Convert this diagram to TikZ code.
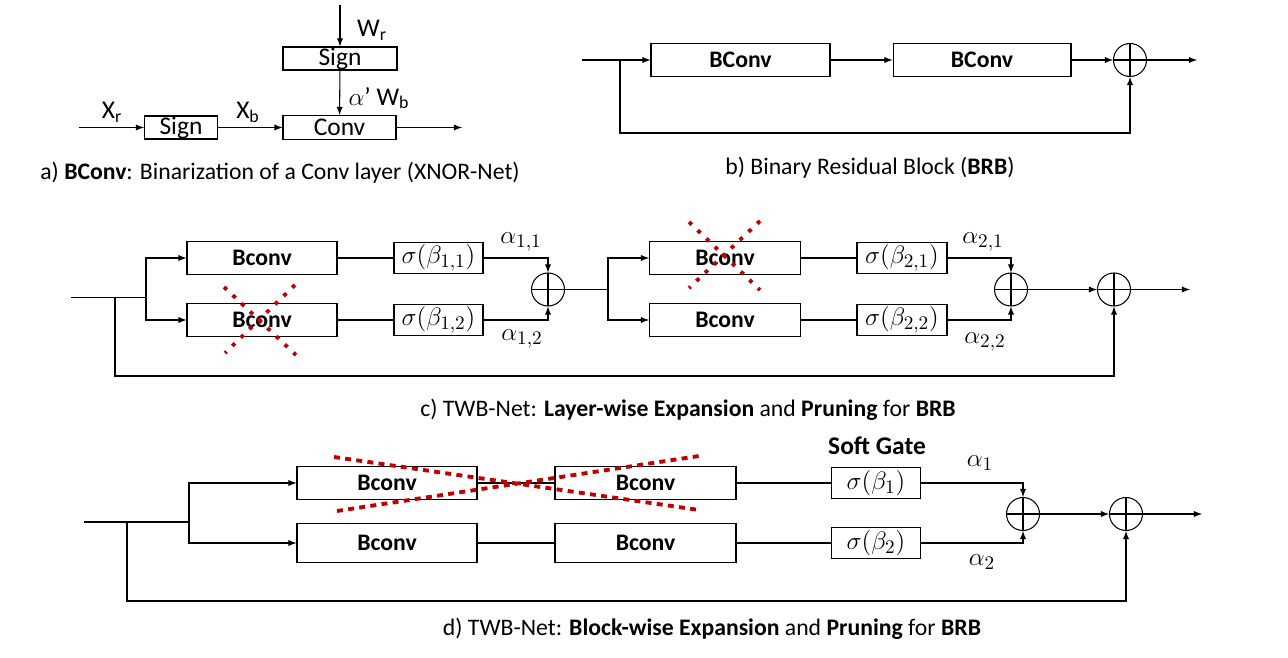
\documentclass[tikz,border=0pt]{standalone}
\usepackage{fontspec}
\setmainfont{Carlito}
\definecolor{cutred}{HTML}{C00000}
\begin{document}
\begin{tikzpicture}[x=0.02cm,y=-0.02cm,line width=0.6pt,
	every node/.style={font=\fontsize{13.5}{15}\selectfont},
	blk/.style={draw,inner sep=0pt,minimum height=0.66cm},
	bold/.style={font=\fontsize{13.5}{15}\selectfont\bfseries},
	gate/.style={draw,inner sep=0pt,minimum width=1.78cm,minimum height=0.62cm,font=\fontsize{15}{17}\selectfont},
	sumnode/.style={draw,circle,inner sep=0pt,minimum size=0.66cm,
		path picture={\draw (path picture bounding box.north)--(path picture bounding box.south)
			(path picture bounding box.west)--(path picture bounding box.east);}},
	alab/.style={font=\fontsize{15}{17}\selectfont},
	prunex/.style={draw=cutred,line width=2.2pt,dash pattern=on 2.2pt off 4.6pt},
	pruneb/.style={draw=cutred,line width=2.2pt,dash pattern=on 3.4pt off 3pt}]
	\useasboundingbox (0,0) rectangle (1288,658);
	% a) BConv
	\node[blk,minimum width=2.28cm,minimum height=0.46cm,font=\fontsize{14.5}{16}\selectfont] (sgnw) at (340,58.5) {Sign};
	\node[blk,minimum width=2.26cm,minimum height=0.48cm,font=\fontsize{14.5}{16}\selectfont] (conv) at (339.5,127.5) {Conv};
	\node[blk,minimum width=1.46cm,minimum height=0.46cm,font=\fontsize{14.5}{16}\selectfont] (sgnx) at (181,127.5) {Sign};
	\coordinate (wtop) at (340,5); \coordinate (xin) at (79,127.5); \coordinate (aout) at (462,127.5);
	\draw[-latex] (wtop) -- (sgnw);
	\draw[-latex] (sgnw) -- (conv);
	\draw[-latex] (xin) -- (sgnx);
	\draw[-latex] (sgnx) -- (conv);
	\draw[-latex] (conv) -- (aout);
	\node[font=\fontsize{14.5}{16}\selectfont] (lwr) at (372,30) {W\textsubscript{r}};
	\node[font=\fontsize{14.5}{16}\selectfont] (lwb) at (379,98) {$\alpha$’ W\textsubscript{b}};
	\node[font=\fontsize{14.5}{16}\selectfont] (lxr) at (112,112) {X\textsubscript{r}};
	\node[font=\fontsize{14.5}{16}\selectfont] (lxb) at (248,112) {X\textsubscript{b}};
	\node (capa) at (280,173) {a) \textbf{BConv}: Binarization of a Conv layer (XNOR-Net)};
	% b) BRB
	\node[blk,bold,minimum width=3.58cm] (bc1) at (740.5,60) {BConv};
	\node[blk,bold,minimum width=3.56cm] (bc2) at (982,60) {BConv};
	\node[sumnode] (sb) at (1130,60) {};
	\coordinate (bin) at (582,60); \coordinate (bsplit) at (620,60);
	\coordinate (bloop) at (620,133); \coordinate (bout) at (1197,60);
	\draw[-latex] (bin) -- (bc1);
	\draw[-latex] (bc1) -- (bc2);
	\draw[-latex] (bc2) -- (sb);
	\draw[-latex] (sb) -- (bout);
	\draw[-latex] (bsplit) -- (bloop) -| (sb);
	\node (capb) at (870,168) {b) Binary Residual Block (\textbf{BRB})};
	% c) layer-wise
	\node[blk,bold,minimum width=3.0cm] (n11) at (262,258) {Bconv};
	\node[blk,bold,minimum width=3.0cm] (n12) at (262,320) {Bconv};
	\node[gate] (g11) at (438.5,258) {$\sigma(\beta_{1,1})$};
	\node[gate] (g12) at (438.5,320) {$\sigma(\beta_{1,2})$};
	\node[sumnode] (s1) at (548,289.5) {};
	\node[blk,bold,minimum width=3.02cm] (n21) at (725,258) {Bconv};
	\node[blk,bold,minimum width=3.02cm] (n22) at (725,320) {Bconv};
	\node[gate,minimum width=1.8cm] (g21) at (902,258) {$\sigma(\beta_{2,1})$};
	\node[gate,minimum width=1.8cm] (g22) at (902,320) {$\sigma(\beta_{2,2})$};
	\node[sumnode] (s2) at (1011,289.5) {};
	\node[sumnode] (s3) at (1114,289.5) {};
	\coordinate (cin) at (71,297.5); \coordinate (cskip) at (115,297.5);
	\coordinate (csplit) at (146,297.5); \coordinate (cloop) at (115,376);
	\coordinate (c2split) at (608,289.5); \coordinate (cout) at (1190,289.5);
	\draw (cin) -- (csplit);
	\draw[-latex] (csplit) |- (n11);
	\draw[-latex] (csplit) |- (n12);
	\draw (n11) -- (g11); \draw (n12) -- (g12);
	\draw[-latex] (g11) -| (s1);
	\draw[-latex] (g12) -| (s1);
	\draw (s1) -- (c2split);
	\draw[-latex] (c2split) |- (n21);
	\draw[-latex] (c2split) |- (n22);
	\draw (n21) -- (g21); \draw (n22) -- (g22);
	\draw[-latex] (g21) -| (s2);
	\draw[-latex] (g22) -| (s2);
	\draw[-latex] (s2) -- (s3);
	\draw[-latex] (s3) -- (cout);
	\draw[-latex] (cskip) -- (cloop) -| (s3);
	\node[alab] (a11) at (521,242) {$\alpha_{1,1}$};
	\node[alab] (a12) at (522,339) {$\alpha_{1,2}$};
	\node[alab] (a21) at (983,242) {$\alpha_{2,1}$};
	\node[alab] (a22) at (985,342) {$\alpha_{2,2}$};
	\draw[prunex] (224,287) -- (296,355) (295,285) -- (225,353);
	\draw[prunex] (689,222) -- (760,290) (760,221) -- (689,288);
	\node (capc) at (688,410) {c) TWB-Net: \textbf{Layer-wise Expansion} and \textbf{Pruning} for \textbf{BRB}};
	% d) block-wise
	\node[blk,bold,minimum width=3.6cm] (m11) at (387,483) {Bconv};
	\node[blk,bold,minimum width=3.62cm] (m12) at (645.5,483) {Bconv};
	\node[blk,bold,minimum width=3.6cm,minimum height=0.78cm] (m21) at (387,543) {Bconv};
	\node[blk,bold,minimum width=3.62cm,minimum height=0.78cm] (m22) at (645.5,543) {Bconv};
	\node[gate] (h1) at (876,483) {$\sigma(\beta_{1})$};
	\node[gate] (h2) at (876,543) {$\sigma(\beta_{2})$};
	\node[font=\fontsize{14.5}{16}\selectfont\bfseries] (soft) at (877,446) {Soft Gate};
	\node[sumnode] (t1) at (1023,514) {};
	\node[sumnode] (t2) at (1126,514) {};
	\coordinate (din) at (84,522); \coordinate (dskip) at (127,522);
	\coordinate (dsplit) at (189,522); \coordinate (dloop) at (127,601);
	\coordinate (dout) at (1202,514);
	\draw (din) -- (dsplit);
	\draw[-latex] (dsplit) |- (m11);
	\draw[-latex] (dsplit) |- (m21);
	\draw (m11) -- (m12); \draw (m12) -- (h1);
	\draw (m21) -- (m22); \draw (m22) -- (h2);
	\draw[-latex] (h1) -| (t1);
	\draw[-latex] (h2) -| (t1);
	\draw[-latex] (t1) -- (t2);
	\draw[-latex] (t2) -- (dout);
	\draw[-latex] (dskip) -- (dloop) -| (t2);
	\node[alab] (b1) at (980,463) {$\alpha_{1}$};
	\node[alab] (b2) at (982,562) {$\alpha_{2}$};
	\draw[pruneb] (334,457) -- (699,510) (337,511) -- (699,456);
	\node (capd) at (712,629) {d) TWB-Net: \textbf{Block-wise Expansion} and \textbf{Pruning} for \textbf{BRB}};
\end{tikzpicture}
\end{document}
